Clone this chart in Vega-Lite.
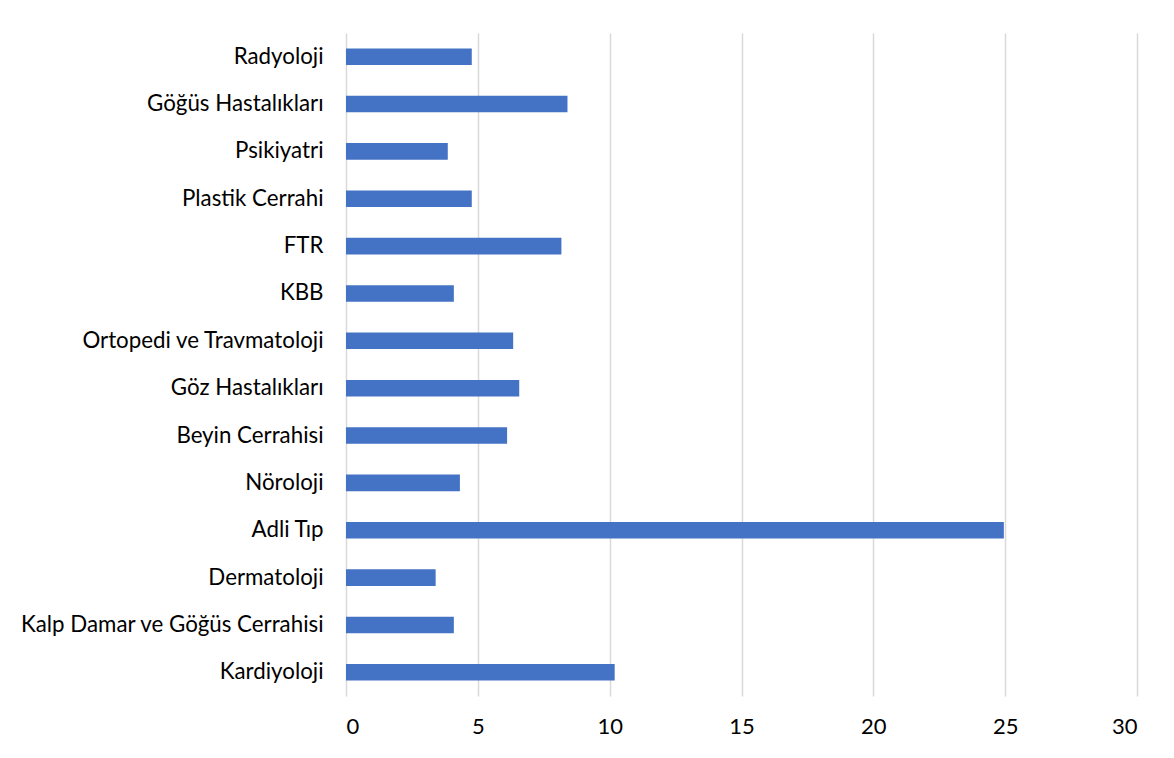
{
  "$schema": "https://vega.github.io/schema/vega-lite/v6.json",
  "width": 791,
  "height": 663,
  "autosize": {"type": "none"},
  "padding": {"left": 346, "top": 33, "right": 37, "bottom": 62},
  "background": "white",
  "config": {"view": {"stroke": null}, "font": "Lato"},
  "data": {
    "values": [
      {"bolum": "Radyoloji\u2005", "deger": 4.77},
      {"bolum": "Göğüs Hastalıkları\u2005", "deger": 8.4},
      {"bolum": "Psikiyatri\u2005", "deger": 3.86},
      {"bolum": "Plastik Cerrahi", "deger": 4.77},
      {"bolum": "FTR", "deger": 8.17},
      {"bolum": "KBB", "deger": 4.09},
      {"bolum": "Ortopedi ve Travmatoloji\u2005", "deger": 6.34},
      {"bolum": "Göz Hastalıkları", "deger": 6.57},
      {"bolum": "Beyin Cerrahisi", "deger": 6.11},
      {"bolum": "Nöroloji\u2005", "deger": 4.32},
      {"bolum": "Adli Tıp", "deger": 24.95},
      {"bolum": "Dermatoloji", "deger": 3.4},
      {"bolum": "Kalp Damar ve Göğüs Cerrahisi", "deger": 4.09},
      {"bolum": "Kardiyoloji", "deger": 10.19}
    ]
  },
  "mark": {"type": "bar", "color": "#4472C4"},
  "encoding": {
    "y": {
      "field": "bolum",
      "type": "nominal",
      "sort": null,
      "title": null,
      "scale": {"paddingInner": 0.65, "paddingOuter": 0.325},
      "axis": {
        "domain": false,
        "ticks": false,
        "labelFontSize": 22.3,
        "labelColor": "#000000",
        "labelPadding": 23,
        "labelLimit": 400
      }
    },
    "x": {
      "field": "deger",
      "type": "quantitative",
      "title": null,
      "scale": {"domain": [0, 30], "nice": false},
      "axis": {
        "values": [0, 5, 10, 15, 20, 25, 30],
        "domain": false,
        "ticks": false,
        "grid": true,
        "gridColor": "#d9d9d9",
        "gridWidth": 1.5,
        "labelFontSize": 22,
        "labelColor": "#000000",
        "labelPadding": 20
      }
    }
  }
}
